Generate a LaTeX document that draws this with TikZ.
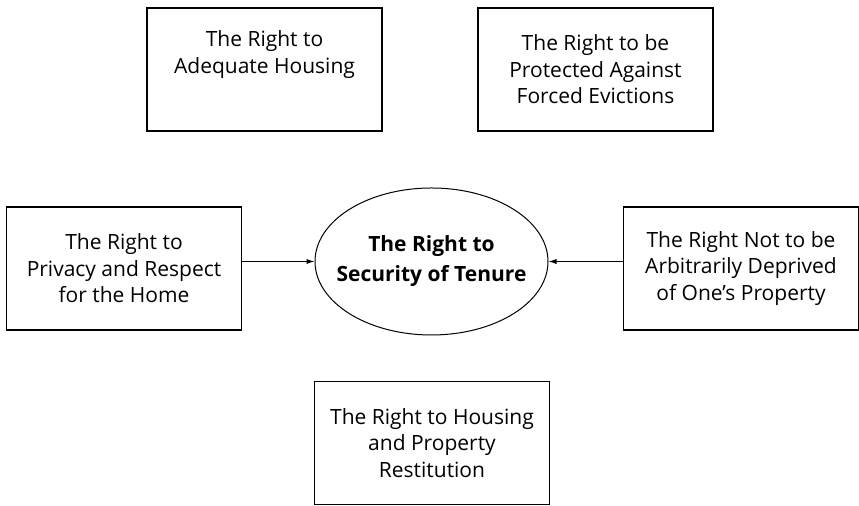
\documentclass[tikz,border=0pt]{standalone}
\usepackage{fontspec}
\setmainfont{Open Sans}
\usetikzlibrary{shapes.geometric,arrows.meta}

\tikzset{
  rightbox/.style={draw, line width=0.6pt, minimum width=117.5pt, minimum height=61.5pt,
    align=center, font=\fontsize{10.5}{13.3}\selectfont, inner sep=0pt},
  tenure/.style={draw, ellipse, line width=0.5pt, minimum width=116.5pt, minimum height=73.5pt,
    align=center, font=\fontsize{10.5}{15}\selectfont\bfseries, inner sep=-30pt},
  feed/.style={line width=0.5pt, -{Latex[length=4pt,width=2.6pt]}}
}

\begin{document}
\begin{tikzpicture}[x=0.5pt,y=-0.5pt]
    \useasboundingbox (0,0) rectangle (859,506);
    % top row
    \node[rightbox] (housing) at (264.5,69.5) {The Right to\\Adequate Housing\\\strut};
    \node[rightbox] (evictions) at (595.5,69.5) {The Right to be\\Protected Against\\Forced Evictions};
    % middle row
    \node[rightbox] (privacy) at (124,268.5) {The Right to\\Privacy and Respect\\for the Home};
    \node[tenure] (tenure) at (431.5,261.5) {The Right to\\Security of Tenure};
    \node[rightbox] (property) at (741,268.5) {The Right Not to be\\Arbitrarily Deprived\\of One's Property};
    % bottom row
    \node[rightbox] (restitution) at (432,443) {The Right to Housing\\and Property\\Restitution};
    % arrows into the centre
    \draw[feed] (privacy.east |- tenure.west) -- (tenure.west);
    \draw[feed] (property.west |- tenure.east) -- (tenure.east);
  \end{tikzpicture}
\end{document}
